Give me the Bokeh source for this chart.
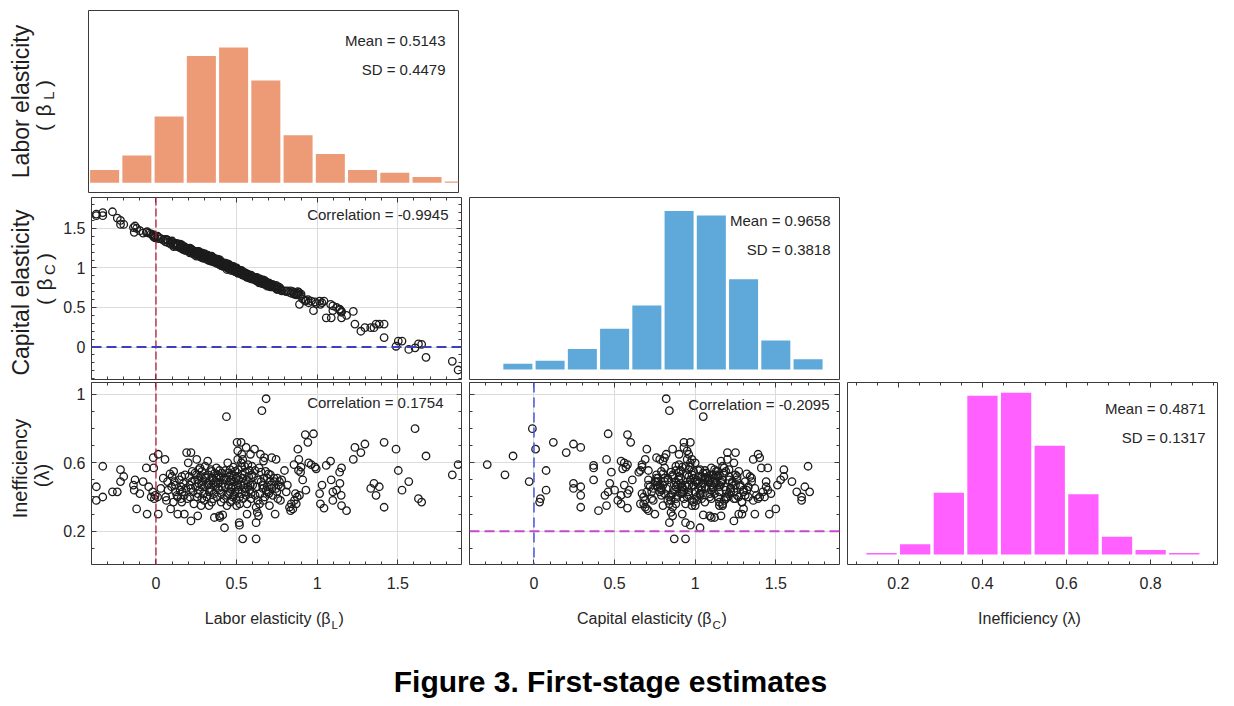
import numpy as np
from bokeh.plotting import figure
from bokeh.layouts import column, row
from bokeh.models import Range1d, LinearAxis, FixedTicker, Label, Span, Grid
from bokeh.core.properties import value
from bokeh.embed import file_html
from bokeh.resources import INLINE

# ---------------- data ----------------
beta_L = [
    -0.37, -0.37, -0.33, -0.33, -0.27, -0.24, -0.22, -0.22, -0.20, -0.14, -0.135, -0.13,
    -0.12, -0.08, -0.06, -0.055, -0.03, -0.017, -0.014, -0.02, -0.01, -0.10, -0.045, -0.005,
    0.014, 0.014, 0.01, 0.056, 0.06, 0.072, 0.087, 0.097, 0.091, 0.114, 0.108, 0.122,
    0.135, 0.135, 0.155, 0.16, 0.155, 0.16, 0.164, 0.176, 0.19, 0.03, 0.045, 0.075,
    0.10, 0.12, 0.13, 0.145, 0.15, 0.17, 0.175, 0.18, 0.185, 0.195, 0.065, 0.11,
    0.20, 0.217, 0.217, 0.222, 0.21, 0.242, 0.253, 0.259, 0.259, 0.259,
    0.217, 0.273, 0.284, 0.284, 0.304, 0.321, 0.325, 0.329, 0.335, 0.346,
    0.356, 0.362, 0.371, 0.383, 0.387, 0.397, 0.394, 0.394,
    0.205, 0.21, 0.225, 0.23, 0.235, 0.24, 0.245, 0.25, 0.255, 0.265,
    0.27, 0.275, 0.28, 0.285, 0.29, 0.295, 0.30, 0.305, 0.31, 0.315,
    0.32, 0.325, 0.33, 0.335, 0.34, 0.345, 0.35, 0.355, 0.36, 0.365,
    0.37, 0.375, 0.38, 0.385, 0.39, 0.395, 0.30, 0.345, 0.265, 0.375,
    0.404, 0.408, 0.40, 0.414, 0.425, 0.425, 0.43, 0.437, 0.445, 0.45,
    0.456, 0.462, 0.466, 0.47, 0.476, 0.48, 0.487, 0.491, 0.497, 0.503,
    0.507, 0.507, 0.511, 0.516, 0.518, 0.507, 0.518, 0.528, 0.532, 0.532,
    0.538, 0.538, 0.538, 0.549, 0.553, 0.559, 0.559, 0.565, 0.57, 0.574,
    0.58, 0.58, 0.586, 0.59, 0.594,
    0.405, 0.41, 0.415, 0.42, 0.43, 0.435, 0.44, 0.445, 0.45, 0.455,
    0.46, 0.465, 0.47, 0.475, 0.48, 0.485, 0.49, 0.495, 0.50, 0.505,
    0.51, 0.515, 0.52, 0.525, 0.53, 0.535, 0.54, 0.545, 0.55, 0.555,
    0.56, 0.565, 0.57, 0.575, 0.585, 0.59, 0.595, 0.46, 0.50, 0.53, 0.44,
    0.60, 0.611, 0.615, 0.615, 0.621, 0.621, 0.621, 0.628, 0.631, 0.636,
    0.642, 0.648, 0.652, 0.652, 0.657, 0.663, 0.667, 0.67, 0.673, 0.683,
    0.683, 0.69, 0.694, 0.698, 0.704, 0.704, 0.714, 0.718, 0.725, 0.731,
    0.739, 0.745, 0.745, 0.752, 0.756, 0.766, 0.776, 0.772, 0.797,
    0.605, 0.625, 0.635, 0.645, 0.66, 0.675, 0.68, 0.69, 0.70, 0.71,
    0.72, 0.735, 0.75, 0.76, 0.78, 0.64, 0.665,
    0.808, 0.828, 0.835, 0.839, 0.849, 0.856, 0.859, 0.87, 0.876, 0.88,
    0.884, 0.886, 0.89, 0.897, 0.90, 0.926, 0.942, 0.947, 0.963, 0.977,
    0.987, 0.994, 0.815, 0.865, 0.91, 0.93,
    1.015, 1.02, 1.042, 1.056, 1.083, 1.087, 1.097, 1.097, 1.139, 1.149,
    1.151, 1.141, 1.151, 1.182, 1.03, 1.12,
    1.224, 1.234, 1.271, 1.296, 1.332, 1.352, 1.365, 1.385, 1.415, 1.415,
    1.489, 1.503, 1.526, 1.568, 1.607, 1.628, 1.648, 1.675, 1.838, 1.874,
]
beta_C = [
    1.68, 1.66, 1.70, 1.66, 1.71, 1.63, 1.55, 1.60, 1.55, 1.51, 1.45, 1.53,
    1.50, 1.44, 1.45, 1.46, 1.43, 1.40, 1.41, 1.42, 1.39, 1.47, 1.44, 1.38,
    1.39, 1.37, 1.40, 1.36, 1.33, 1.35, 1.32, 1.33, 1.30, 1.31, 1.29, 1.30,
    1.27, 1.29, 1.28, 1.26, 1.25, 1.29, 1.24, 1.27, 1.25, 1.37, 1.35, 1.32,
    1.34, 1.28, 1.31, 1.26, 1.30, 1.23, 1.26, 1.25, 1.22, 1.24, 1.36, 1.27,
    1.24, 1.20, 1.22, 1.23, 1.19, 1.18, 1.20, 1.17, 1.21, 1.16,
    1.24, 1.18, 1.15, 1.19, 1.14, 1.16, 1.12, 1.15, 1.11, 1.14,
    1.10, 1.12, 1.08, 1.11, 1.07, 1.10, 1.06, 1.09,
    1.21, 1.25, 1.19, 1.22, 1.17, 1.21, 1.18, 1.15, 1.20, 1.16,
    1.19, 1.14, 1.17, 1.13, 1.16, 1.12, 1.15, 1.17, 1.12, 1.14,
    1.10, 1.13, 1.15, 1.09, 1.12, 1.10, 1.08, 1.13, 1.09, 1.07,
    1.11, 1.06, 1.09, 1.05, 1.08, 1.04, 1.18, 1.15, 1.21, 1.10,
    1.06, 1.04, 1.07, 1.05, 1.03, 1.06, 1.02, 1.05, 1.00, 1.03,
    1.01, 0.99, 1.02, 0.98, 1.01, 0.97, 1.00, 0.96, 0.99, 0.97,
    0.95, 0.98, 0.96, 0.94, 0.97, 0.94, 0.95, 0.93, 0.96, 0.92,
    0.95, 0.91, 0.94, 0.92, 0.90, 0.93, 0.89, 0.92, 0.90, 0.88,
    0.91, 0.87, 0.90, 0.88, 0.86,
    1.03, 1.07, 1.02, 1.04, 1.06, 1.01, 1.03, 1.05, 0.99, 1.04,
    1.00, 0.97, 1.01, 0.98, 1.02, 0.96, 0.99, 0.95, 0.98, 0.96,
    0.93, 0.97, 0.94, 0.96, 0.92, 0.95, 0.93, 0.91, 0.94, 0.92,
    0.90, 0.88, 0.92, 0.90, 0.87, 0.91, 0.88, 1.03, 1.00, 0.97, 0.98,
    0.89, 0.86, 0.88, 0.85, 0.87, 0.84, 0.86, 0.85, 0.83, 0.86,
    0.84, 0.82, 0.85, 0.81, 0.84, 0.82, 0.80, 0.83, 0.81, 0.82,
    0.79, 0.81, 0.78, 0.80, 0.77, 0.80, 0.78, 0.76, 0.79, 0.77,
    0.75, 0.78, 0.74, 0.76, 0.73, 0.75, 0.72, 0.74, 0.71,
    0.86, 0.88, 0.83, 0.86, 0.80, 0.84, 0.79, 0.77, 0.81, 0.76,
    0.79, 0.76, 0.73, 0.76, 0.71, 0.81, 0.85,
    0.70, 0.69, 0.71, 0.68, 0.70, 0.67, 0.69, 0.66, 0.68, 0.70,
    0.66, 0.69, 0.54, 0.65, 0.67, 0.58, 0.60, 0.56, 0.58, 0.46,
    0.57, 0.55, 0.71, 0.67, 0.61, 0.59,
    0.58, 0.54, 0.58, 0.37, 0.54, 0.37, 0.46, 0.52, 0.48, 0.44,
    0.37, 0.47, 0.45, 0.40, 0.56, 0.50,
    0.45, 0.29, 0.20, 0.245, 0.245, 0.245, 0.29, 0.29, 0.29, 0.12,
    0.01, 0.075, 0.075, -0.03, -0.01, 0.04, 0.035, -0.13, -0.18, -0.29,
]
lam = [
    0.46, 0.38, 0.58, 0.40, 0.43, 0.43, 0.56, 0.49, 0.52, 0.47, 0.44, 0.50,
    0.33, 0.49, 0.57, 0.30, 0.40, 0.63, 0.57, 0.43, 0.39, 0.42, 0.46, 0.41,
    0.65, 0.30, 0.40, 0.62, 0.40, 0.49, 0.535, 0.46, 0.33, 0.49, 0.37, 0.43,
    0.40, 0.30, 0.46, 0.52, 0.39, 0.37, 0.43, 0.30, 0.66, 0.45, 0.51, 0.44,
    0.52, 0.47, 0.41, 0.50, 0.44, 0.48, 0.41, 0.53, 0.45, 0.39, 0.38, 0.55,
    0.60, 0.66, 0.45, 0.49, 0.40, 0.54, 0.62, 0.50, 0.42, 0.29,
    0.26, 0.57, 0.47, 0.39, 0.52, 0.61, 0.48, 0.35, 0.45, 0.55,
    0.39, 0.28, 0.49, 0.53, 0.45, 0.28, 0.555, 0.29,
    0.52, 0.47, 0.55, 0.43, 0.36, 0.50, 0.46, 0.53, 0.40, 0.48,
    0.44, 0.52, 0.35, 0.55, 0.49, 0.42, 0.46, 0.58, 0.51, 0.40,
    0.47, 0.53, 0.43, 0.50, 0.56, 0.44, 0.51, 0.48, 0.42, 0.54,
    0.46, 0.51, 0.40, 0.48, 0.52, 0.44, 0.38, 0.37, 0.56, 0.57,
    0.37, 0.46, 0.51, 0.295, 0.22, 0.51, 0.555, 0.87, 0.60, 0.42,
    0.49, 0.37, 0.45, 0.53, 0.40, 0.575, 0.49, 0.43, 0.51, 0.72,
    0.67, 0.62, 0.56, 0.25, 0.235, 0.47, 0.40, 0.72, 0.65, 0.575,
    0.62, 0.51, 0.155, 0.45, 0.545, 0.69, 0.41, 0.30, 0.59, 0.49,
    0.555, 0.44, 0.65, 0.39, 0.53,
    0.42, 0.54, 0.48, 0.39, 0.46, 0.50, 0.41, 0.54, 0.47, 0.52,
    0.43, 0.50, 0.38, 0.46, 0.52, 0.41, 0.55, 0.46, 0.38, 0.52,
    0.44, 0.50, 0.36, 0.47, 0.42, 0.53, 0.39, 0.48, 0.58, 0.43,
    0.50, 0.36, 0.46, 0.52, 0.47, 0.42, 0.58, 0.56, 0.35, 0.60, 0.35,
    0.47, 0.68, 0.555, 0.41, 0.155, 0.25, 0.34, 0.31, 0.38, 0.29,
    0.36, 0.65, 0.545, 0.49, 0.905, 0.45, 0.61, 0.51, 0.63, 0.975,
    0.44, 0.51, 0.43, 0.535, 0.49, 0.35, 0.47, 0.63, 0.41, 0.51,
    0.30, 0.62, 0.45, 0.51, 0.39, 0.49, 0.46, 0.38, 0.555,
    0.52, 0.46, 0.50, 0.42, 0.47, 0.40, 0.55, 0.46, 0.42, 0.53,
    0.45, 0.49, 0.43, 0.47, 0.50, 0.57, 0.38,
    0.43, 0.34, 0.32, 0.36, 0.33, 0.59, 0.38, 0.36, 0.40, 0.68,
    0.555, 0.62, 0.41, 0.545, 0.575, 0.765, 0.72, 0.60, 0.59, 0.77,
    0.575, 0.565, 0.47, 0.42, 0.50, 0.44,
    0.42, 0.36, 0.335, 0.585, 0.61, 0.50, 0.43, 0.38, 0.545, 0.41,
    0.57, 0.48, 0.35, 0.32, 0.47, 0.44,
    0.62, 0.69, 0.66, 0.71, 0.45, 0.48, 0.41, 0.46, 0.34, 0.72,
    0.68, 0.555, 0.44, 0.49, 0.80, 0.39, 0.37, 0.64, 0.53, 0.59,
]

hist_L_centers = [-0.3, -0.1, 0.1, 0.3, 0.5, 0.7, 0.9, 1.1, 1.3, 1.5, 1.7, 1.9]
hist_L_counts = [9, 19, 46, 88, 94, 71, 33, 20, 9, 7, 4, 1]
hist_C_centers = [-0.1, 0.1, 0.3, 0.5, 0.7, 0.9, 1.1, 1.3, 1.5, 1.7]
hist_C_counts = [4, 6, 14, 28, 44, 109, 106, 62, 20, 7]
hist_lam_centers = [0.16, 0.24, 0.32, 0.40, 0.48, 0.56, 0.64, 0.72, 0.80, 0.88]
hist_lam_counts = [1, 7, 42, 108, 110, 74, 41, 12, 3, 1]

stats_L = ["Mean = 0.5143", "SD = 0.4479"]
stats_C = ["Mean = 0.9658", "SD = 0.3818"]
stats_lam = ["Mean = 0.4871", "SD = 0.1317"]
corr_LC = "Correlation = -0.9945"
corr_Llam = "Correlation = 0.1754"
corr_Clam = "Correlation = -0.2095"

ticks_beta = [0, 0.5, 1, 1.5]
ticklabels_beta = ["0", "0.5", "1", "1.5"]
ticks_lam_y = [0.2, 0.6, 1]
ticklabels_lam_y = ["0.2", "0.6", "1"]
ticks_lam_x = [0.2, 0.4, 0.6, 0.8]
ticklabels_lam_x = ["0.2", "0.4", "0.6", "0.8"]

ref_beta = 0.0
ref_lam = 0.2

# ---------------- styling ----------------
SANS = "'Liberation Sans', Arial, Helvetica, sans-serif"
INK = "#262626"
EDGE = "#3a3a3a"
C_L = "#EC9B76"
C_C = "#5EA8DA"
C_LAM = "#FF60FF"

R_BETA = (-0.40, 1.895)
R_BETA_Y = (-0.41, 1.89)
R_LAM_Y = (0.005, 1.07)
R_LAM_X = (0.079, 0.959)

minor_beta = list(np.round(np.arange(-0.4, 1.85, 0.1), 2))
minor_lam_y = list(np.round(np.arange(0.0, 1.05, 0.1), 2))
minor_lam_x = list(np.round(np.arange(0.1, 0.96, 0.05), 3))

FW, FH = 370, 182
ANN = "15px"


def base_fig(xr, yr, bl, br, bt, bb):
    p = figure(frame_width=FW, frame_height=FH, x_range=Range1d(*xr), y_range=Range1d(*yr),
               x_axis_location=None, y_axis_location=None,
               output_backend="svg", toolbar_location=None,
               min_border_left=bl, min_border_right=br, min_border_top=bt, min_border_bottom=bb)
    p.grid.visible = False
    p.outline_line_color = EDGE
    p.outline_line_width = 1
    p.background_fill_color = "white"
    p.border_fill_color = "white"
    return p


def add_axis(p, side, ticks, minor, labels=None, standoff=6):
    ax = LinearAxis(ticker=FixedTicker(ticks=ticks, minor_ticks=minor))
    ax.axis_line_color = None
    ax.major_tick_in = 5
    ax.major_tick_out = 0
    ax.minor_tick_in = 3
    ax.minor_tick_out = 0
    ax.major_tick_line_color = EDGE
    ax.minor_tick_line_color = EDGE
    if labels is None:
        ax.major_label_text_font_size = "0px"
        ax.major_label_text_alpha = 0
        ax.major_label_standoff = 0
    else:
        ax.major_label_overrides = {t: s for t, s in zip(ticks, labels)}
        ax.major_label_text_font = SANS
        ax.major_label_text_font_size = "16px"
        ax.major_label_text_color = INK
        ax.major_label_standoff = standoff
    p.add_layout(ax, side)
    return ax


def add_grid(p, xt, yt):
    p.add_layout(Grid(dimension=0, ticker=FixedTicker(ticks=xt), grid_line_color="#dcdcdc",
                      grid_line_width=1), "center")
    p.add_layout(Grid(dimension=1, ticker=FixedTicker(ticks=yt), grid_line_color="#dcdcdc",
                      grid_line_width=1), "center")


def ann(p, x, y, s, align="right"):
    # text inside a panel, placed in screen pixels from the frame's lower-left corner
    p.add_layout(Label(x=x, y=y, x_units="screen", y_units="screen", text=s,
                       text_font=SANS, text_font_size=ANN, text_align=align,
                       text_baseline="middle", text_color=INK))


def gtext(p, x, y, s, size, align="center", angle=0.0, style="normal", color="#1e1e1e"):
    p.text(x=[x], y=[y], text=[s], text_font=value(SANS), text_font_size=size,
           text_align=align, text_baseline="middle", angle=angle,
           text_font_style=style, text_color=color)


def scatter(p, x, y):
    p.scatter(x, y, size=7.5, marker="circle", fill_color=None, line_color="#1c1c1c", line_width=1.3)


ROT = np.pi / 2

# ---------- row 1 : histogram of beta_L ----------
f11 = base_fig(R_BETA, (-6.7, 119.6), 28, 4, 10, 2)
f11.vbar(x=hist_L_centers, top=hist_L_counts, bottom=0, width=0.18, fill_color=C_L, line_color=None)
ann(f11, 357, 152, stats_L[0])
ann(f11, 357, 123, stats_L[1])

# ---------- row 2 ----------
f21 = base_fig(R_BETA, R_BETA_Y, 28, 4, 3, 1)
add_grid(f21, ticks_beta, ticks_beta)
add_axis(f21, "left", ticks_beta, minor_beta, ticklabels_beta, standoff=6)
add_axis(f21, "right", ticks_beta, minor_beta)
add_axis(f21, "above", ticks_beta, minor_beta)
add_axis(f21, "below", ticks_beta, minor_beta)
f21.add_layout(Span(location=ref_beta, dimension="height", line_color="#B22040",
                    line_dash="8 3", line_width=1.3))
f21.add_layout(Span(location=ref_beta, dimension="width", line_color="#3E3EC0",
                    line_dash="10 5", line_width=2))
scatter(f21, beta_L, beta_C)
ann(f21, 357, 165.5, corr_LC)

f22 = base_fig(R_BETA, (-6.9, 118.3), 4, 4, 3, 1)
f22.vbar(x=hist_C_centers, top=hist_C_counts, bottom=0, width=0.18, fill_color=C_C, line_color=None)
ann(f22, 361, 159, stats_C[0])
ann(f22, 361, 130, stats_C[1])

# ---------- row 3 ----------
f31 = base_fig(R_BETA, R_LAM_Y, 28, 4, 2, 36)
add_grid(f31, ticks_beta, ticks_lam_y)
add_axis(f31, "left", ticks_lam_y, minor_lam_y, ticklabels_lam_y, standoff=6)
add_axis(f31, "right", ticks_lam_y, minor_lam_y)
add_axis(f31, "above", ticks_beta, minor_beta)
add_axis(f31, "below", ticks_beta, minor_beta, ticklabels_beta, standoff=12)
f31.add_layout(Span(location=ref_beta, dimension="height", line_color="#B22040",
                    line_dash="8 3", line_width=1.3))
scatter(f31, beta_L, lam)
ann(f31, 352, 162.5, corr_Llam)

f32 = base_fig(R_BETA, R_LAM_Y, 4, 4, 2, 36)
add_grid(f32, ticks_beta, ticks_lam_y)
add_axis(f32, "left", ticks_lam_y, minor_lam_y)
add_axis(f32, "right", ticks_lam_y, minor_lam_y)
add_axis(f32, "above", ticks_beta, minor_beta)
add_axis(f32, "below", ticks_beta, minor_beta, ticklabels_beta, standoff=12)
f32.add_layout(Span(location=ref_beta, dimension="height", line_color="#4A55DD",
                    line_dash="10 5", line_width=1.5))
f32.add_layout(Span(location=ref_lam, dimension="width", line_color="#C24BC8",
                    line_dash="10 5", line_width=2))
scatter(f32, beta_C, lam)
ann(f32, 360, 160, corr_Clam)

f33 = base_fig(R_LAM_X, (-6.8, 117.0), 4, 4, 2, 36)
add_axis(f33, "above", ticks_lam_x, minor_lam_x)
add_axis(f33, "below", ticks_lam_x, minor_lam_x, ticklabels_lam_x, standoff=12)
f33.vbar(x=hist_lam_centers, top=hist_lam_counts, bottom=0, width=0.072, fill_color=C_LAM, line_color=None)
ann(f33, 358, 156, stats_lam[0])
ann(f33, 358, 127, stats_lam[1])

# ---------- y-axis titles (left strip, pixel coordinates, y up) ----------
ylab = figure(width=60, height=600, x_range=Range1d(0, 60), y_range=Range1d(0, 600),
              x_axis_location=None, y_axis_location=None, output_backend="svg",
              toolbar_location=None, min_border=0)
ylab.grid.visible = False
ylab.outline_line_color = None
gtext(ylab, 20, 499, "Labor elasticity", "23px", angle=ROT)
gtext(ylab, 43, 473, "(", "21px", angle=ROT)
gtext(ylab, 43, 490, "β", "21px", angle=ROT)
gtext(ylab, 48, 505, "L", "15px", angle=ROT)
gtext(ylab, 43, 517, ")", "21px", angle=ROT)
gtext(ylab, 20, 308, "Capital elasticity", "23px", angle=ROT)
gtext(ylab, 44, 299, "(", "21px", angle=ROT)
gtext(ylab, 44, 316, "β", "21px", angle=ROT)
gtext(ylab, 49, 331, "C", "15px", angle=ROT)
gtext(ylab, 44, 344, ")", "21px", angle=ROT)
gtext(ylab, 19, 132, "Inefficiency", "20px", angle=ROT)
gtext(ylab, 41, 125, "(λ)", "20px", angle=ROT)

# ---------- x-axis titles and caption (pixel coordinates, y up) ----------
bot = figure(width=1218, height=100, x_range=Range1d(0, 1218), y_range=Range1d(0, 100),
             x_axis_location=None, y_axis_location=None, output_backend="svg",
             toolbar_location=None, min_border=0)
bot.grid.visible = False
bot.outline_line_color = None
gtext(bot, 330, 82, "Labor elasticity (β", "16px", align="right", color=INK)
gtext(bot, 331, 76, "L", "11.5px", align="left", color=INK)
gtext(bot, 338, 82, ")", "16px", align="left", color=INK)
gtext(bot, 711, 82, "Capital elasticity (β", "16px", align="right", color=INK)
gtext(bot, 712, 76, "C", "11.5px", align="left", color=INK)
gtext(bot, 721, 82, ")", "16px", align="left", color=INK)
gtext(bot, 1029, 82, "Inefficiency (λ)", "16px", align="center", color=INK)
gtext(bot, 610, 19, "Figure 3. First-stage estimates", "30px", align="center",
      style="bold", color="black")

grid_block = column(row(f11), row(f21, f22), row(f31, f32, f33))
layout = column(row(ylab, grid_block), bot)

open("out.html", "w").write(file_html(layout, INLINE))
